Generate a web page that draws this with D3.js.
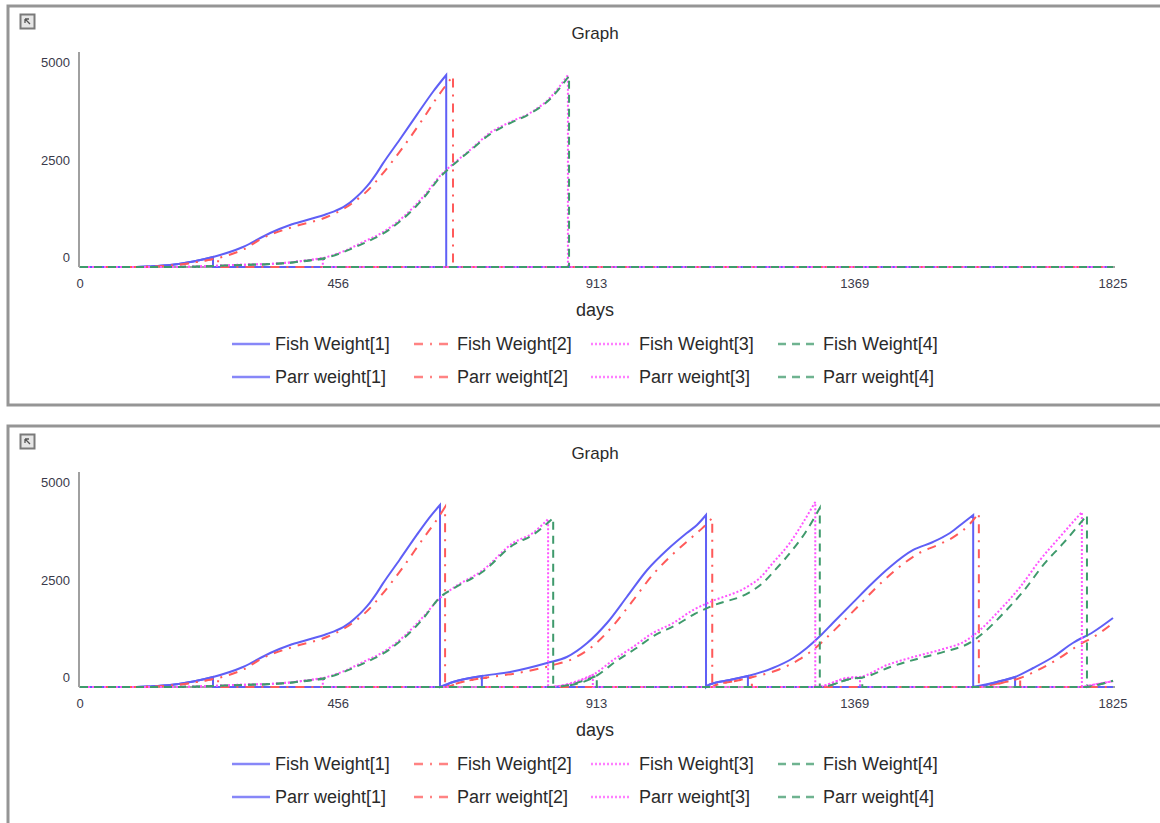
<!DOCTYPE html>
<html lang="en">
<head>
<meta charset="UTF-8">
<title>Graph</title>
<script src="https://cdn.jsdelivr.net/npm/d3@7"></script>
<style>
    body { margin: 0; background: #fff; }
    text { font-family: "Liberation Sans", Arial, sans-serif; fill: #2a2a2a; }
</style>
</head>
<body>
<script>

    // [day, value] pairs; a repeated day is a drop to 0
    var topFish1 = [[0,0],[100,0],[124,15],[159,50],[200,140],[235,256],[288,513],[336,872],[371,1077],[401,1205],[436,1359],[465,1538],[477,1650],[489,1800],[500,1960],[512,2160],[524,2400],[535,2650],[565,3270],[595,3900],[624,4500],[647,4923],[647,0],[1825,0]];
    var topFish2 = [[0,0],[105,0],[130,12],[165,45],[205,125],[244,230],[290,460],[323,744],[376,1026],[436,1282],[471,1538],[485,1680],[500,1850],[518,2110],[535,2400],[571,3077],[606,3800],[631,4350],[659,4900],[659,0],[1825,0]];
    var topFish3 = [[0,0],[150,0],[200,10],[270,50],[359,100],[389,150],[429,230],[465,400],[500,640],[536,900],[571,1282],[606,1795],[641,2410],[653,2564],[689,3000],[724,3436],[760,3718],[795,3949],[830,4333],[862,4923],[862,0],[1825,0]];
    var topFish4 = [[0,0],[150,0],[200,8],[270,45],[359,95],[389,140],[431,220],[465,380],[500,600],[536,860],[571,1240],[606,1750],[641,2380],[653,2540],[689,2980],[724,3400],[760,3690],[795,3930],[830,4300],[864,4900],[864,0],[1825,0]];
    var topParr1 = [[0,0],[100,0],[124,15],[159,50],[200,140],[235,256],[235,0],[1825,0]];
    var topParr2 = [[0,0],[105,0],[130,12],[165,45],[205,125],[244,230],[244,0],[1825,0]];
    var topParr3 = [[0,0],[150,0],[200,10],[270,50],[359,100],[389,150],[429,230],[429,0],[1825,0]];
    var topParr4 = [[0,0],[150,0],[200,8],[270,45],[359,95],[389,140],[431,220],[431,0],[1825,0]];

    var botFish1 = [[0,0],[100,0],[124,15],[159,50],[200,140],[235,256],[288,513],[336,872],[371,1077],[401,1205],[436,1359],[465,1538],[477,1650],[489,1800],[500,1960],[512,2160],[524,2400],[535,2650],[565,3270],[595,3900],[615,4300],[636,4667],[636,0],
        [659,128],[710,282],[760,385],[825,615],[860,769],[896,1128],[931,1641],[966,2308],[1002,3000],[1037,3513],[1072,3949],[1090,4154],[1106,4410],[1106,0],
        [1110,50],[1148,180],[1180,282],[1224,487],[1260,744],[1284,1000],[1307,1300],[1330,1640],[1366,2170],[1396,2610],[1431,3077],[1472,3513],[1507,3718],[1537,3949],[1560,4205],[1578,4410],[1578,0],
        [1620,128],[1652,256],[1684,487],[1719,769],[1754,1128],[1790,1410],[1825,1769]];
    var botFish2 = [[0,0],[105,0],[130,12],[165,45],[205,125],[244,230],[290,460],[323,744],[376,1026],[436,1282],[471,1538],[485,1680],[500,1850],[518,2110],[535,2400],[571,3077],[606,3800],[631,4300],[645,4615],[645,0],
        [670,110],[717,240],[770,350],[835,560],[870,720],[906,1050],[941,1560],[976,2200],[1012,2880],[1047,3400],[1082,3850],[1100,4080],[1117,4333],[1117,0],
        [1122,40],[1160,160],[1187,250],[1235,450],[1270,700],[1295,950],[1318,1250],[1342,1590],[1376,2090],[1406,2540],[1441,3000],[1482,3430],[1517,3650],[1547,3880],[1570,4150],[1588,4460],[1588,0],
        [1630,110],[1661,230],[1693,440],[1728,720],[1763,1060],[1798,1350],[1825,1641]];
    var botFish3 = [[0,0],[150,0],[200,10],[270,50],[359,100],[389,150],[429,230],[465,400],[500,640],[536,900],[571,1282],[606,1795],[636,2282],[659,2538],[712,3000],[765,3692],[800,3949],[827,4308],[827,0],
        [843,20],[906,308],[942,692],[977,1026],[1012,1385],[1048,1641],[1083,1974],[1113,2179],[1178,2564],[1201,2795],[1224,3179],[1254,3692],[1277,4205],[1299,4744],[1299,0],
        [1307,10],[1355,230],[1378,256],[1426,564],[1472,769],[1519,949],[1567,1205],[1590,1462],[1625,1974],[1661,2564],[1696,3256],[1731,3846],[1770,4487],[1770,0],
        [1784,40],[1825,150]];
    var botFish4 = [[0,0],[150,0],[200,8],[270,45],[359,95],[389,140],[431,220],[465,380],[500,600],[536,860],[571,1240],[606,1750],[636,2300],[659,2520],[712,2960],[765,3640],[800,3900],[836,4333],[836,0],
        [850,15],[913,290],[946,650],[981,980],[1016,1330],[1052,1580],[1087,1880],[1117,2080],[1182,2420],[1205,2650],[1228,3000],[1258,3500],[1281,3950],[1307,4590],[1307,0],
        [1315,10],[1362,210],[1382,240],[1433,520],[1479,720],[1526,900],[1574,1150],[1597,1400],[1632,1900],[1668,2480],[1703,3150],[1738,3700],[1779,4410],[1779,0],
        [1790,30],[1825,160]];
    var botParr1 = [[0,0],[100,0],[124,15],[159,50],[200,140],[235,256],[235,0],[636,0],[659,128],[710,282],[710,0],[1106,0],[1110,50],[1148,180],[1180,282],[1180,0],[1578,0],[1620,128],[1652,256],[1652,0],[1825,0]];
    var botParr2 = [[0,0],[105,0],[130,12],[165,45],[205,125],[244,230],[244,0],[645,0],[670,110],[717,240],[717,0],[1117,0],[1122,40],[1160,160],[1187,250],[1187,0],[1588,0],[1630,110],[1661,230],[1661,0],[1825,0]];
    var botParr3 = [[0,0],[150,0],[200,10],[270,50],[359,100],[389,150],[429,230],[429,0],[827,0],[843,20],[906,308],[906,0],[1299,0],[1307,10],[1355,230],[1378,256],[1378,0],[1770,0],[1784,40],[1825,150]];
    var botParr4 = [[0,0],[150,0],[200,8],[270,45],[359,95],[389,140],[431,220],[431,0],[836,0],[850,15],[913,290],[913,0],[1307,0],[1315,10],[1362,210],[1382,240],[1382,0],[1779,0],[1790,30],[1825,160]];

    var fishNames = ["Fish Weight[1]", "Fish Weight[2]", "Fish Weight[3]", "Fish Weight[4]"];
    var parrNames = ["Parr weight[1]", "Parr weight[2]", "Parr weight[3]", "Parr weight[4]"];
    var xTicks = [0, 456.25, 912.5, 1368.75, 1825];
    var xTickLabels = ["0", "456", "913", "1369", "1825"];
    var yTicks = [0, 2500, 5000];

    var colors = ["#5f5ff6", "#ff5a5a", "#ff55ff", "#3f9a6c"];
    var dashes = [null, "9,7,2,7", "2,2", "8,6"];

    var width = 1160, height = 823;
    var svg = d3.select("body").append("svg")
        .attr("width", width)
        .attr("height", height);

    var x = d3.scaleLinear().domain([0, 1825]).range([80, 1113]);

    function pathFor(pts, y) {
        // split at drops so each growth run is smoothed on its own
        var runs = [[pts[0]]];
        for (var i = 1; i < pts.length; i++) {
            if (pts[i][0] === pts[i - 1][0]) runs.push([]);
            runs[runs.length - 1].push(pts[i]);
        }
        var line = d3.line()
            .x(function(d) { return x(d[0]); })
            .y(function(d) { return y(d[1]); })
            .curve(d3.curveMonotoneX);
        return runs.map(function(r, i) {
            var s = r.length > 1 ? line(r) : "M" + x(r[0][0]) + "," + y(r[0][1]);
            return i ? s.replace(/^M/, "L") : s;
        }).join("");
    }

    function drawPanel(top, fish, parr) {
        var g = svg.append("g");
        var base = top + 267;
        var y = d3.scaleLinear().domain([0, 5000]).range([base, base - 195]);

        g.append("rect")
            .attr("x", 8).attr("y", top + 6)
            .attr("width", 1200).attr("height", 399)
            .attr("fill", "none").attr("stroke", "#959595").attr("stroke-width", 3);

        // little zoom icon
        g.append("rect")
            .attr("x", 20.5).attr("y", top + 14.5).attr("width", 14).attr("height", 14)
            .attr("fill", "#e6e6e6").attr("stroke", "#7a7a7a").attr("stroke-width", 2);
        g.append("path")
            .attr("d", "M25," + (top + 19) + "h4M25," + (top + 19) + "v4M25," + (top + 19) + "l5,5")
            .attr("stroke", "#555").attr("stroke-width", 1.3).attr("fill", "none");

        g.append("text")
            .attr("x", 595).attr("y", top + 39)
            .attr("text-anchor", "middle").style("font-size", "17px")
            .text("Graph");

        g.append("line")
            .attr("x1", 79).attr("x2", 79)
            .attr("y1", base).attr("y2", y(5000) - 20)
            .attr("stroke", "#a0a0a0").attr("stroke-width", 2);
        g.append("line")
            .attr("x1", 79).attr("x2", x(1825) + 2)
            .attr("y1", base).attr("y2", base)
            .attr("stroke", "#a0a0a0").attr("stroke-width", 2);

        g.selectAll(".ytick").data(yTicks).enter().append("text")
            .attr("x", 70).attr("y", function(d) { return y(d) - 9.5; })
            .attr("dy", "0.35em").attr("text-anchor", "end")
            .style("font-size", "13px").style("fill", "#3a3a4a")
            .text(function(d) { return d; });

        g.selectAll(".xtick").data(xTicks).enter().append("text")
            .attr("x", function(d) { return x(d); }).attr("y", base + 16)
            .attr("dy", "0.35em").attr("text-anchor", "middle")
            .style("font-size", "13px").style("fill", "#3a3a4a")
            .text(function(d, i) { return xTickLabels[i]; });

        g.append("text")
            .attr("x", 595).attr("y", top + 316)
            .attr("text-anchor", "middle").style("font-size", "18px")
            .text("days");

        var all = fish.concat(parr);
        g.selectAll(".series").data(all).enter().append("path")
            .attr("d", function(d) { return pathFor(d, y); })
            .attr("fill", "none")
            .attr("stroke", function(d, i) { return colors[i % 4]; })
            .attr("stroke-width", 2)
            .attr("stroke-dasharray", function(d, i) { return dashes[i % 4]; });

        // legend
        var sampleX = [232, 414, 591, 778], textX = [275, 457, 639, 823];
        [fishNames, parrNames].forEach(function(names, row) {
            var cy = top + 344 + row * 33;
            names.forEach(function(name, i) {
                g.append("line")
                    .attr("x1", sampleX[i]).attr("x2", sampleX[i] + 38)
                    .attr("y1", cy).attr("y2", cy)
                    .attr("stroke", colors[i]).attr("stroke-width", 2.5)
                    .attr("stroke-dasharray", dashes[i])
                    .attr("opacity", 0.75);
                g.append("text")
                    .attr("x", textX[i]).attr("y", cy)
                    .attr("dy", "0.35em").style("font-size", "18px")
                    .text(name);
            });
        });
    }

    drawPanel(0, [topFish1, topFish2, topFish3, topFish4], [topParr1, topParr2, topParr3, topParr4]);
    drawPanel(420, [botFish1, botFish2, botFish3, botFish4], [botParr1, botParr2, botParr3, botParr4]);

</script>
</body>
</html>
